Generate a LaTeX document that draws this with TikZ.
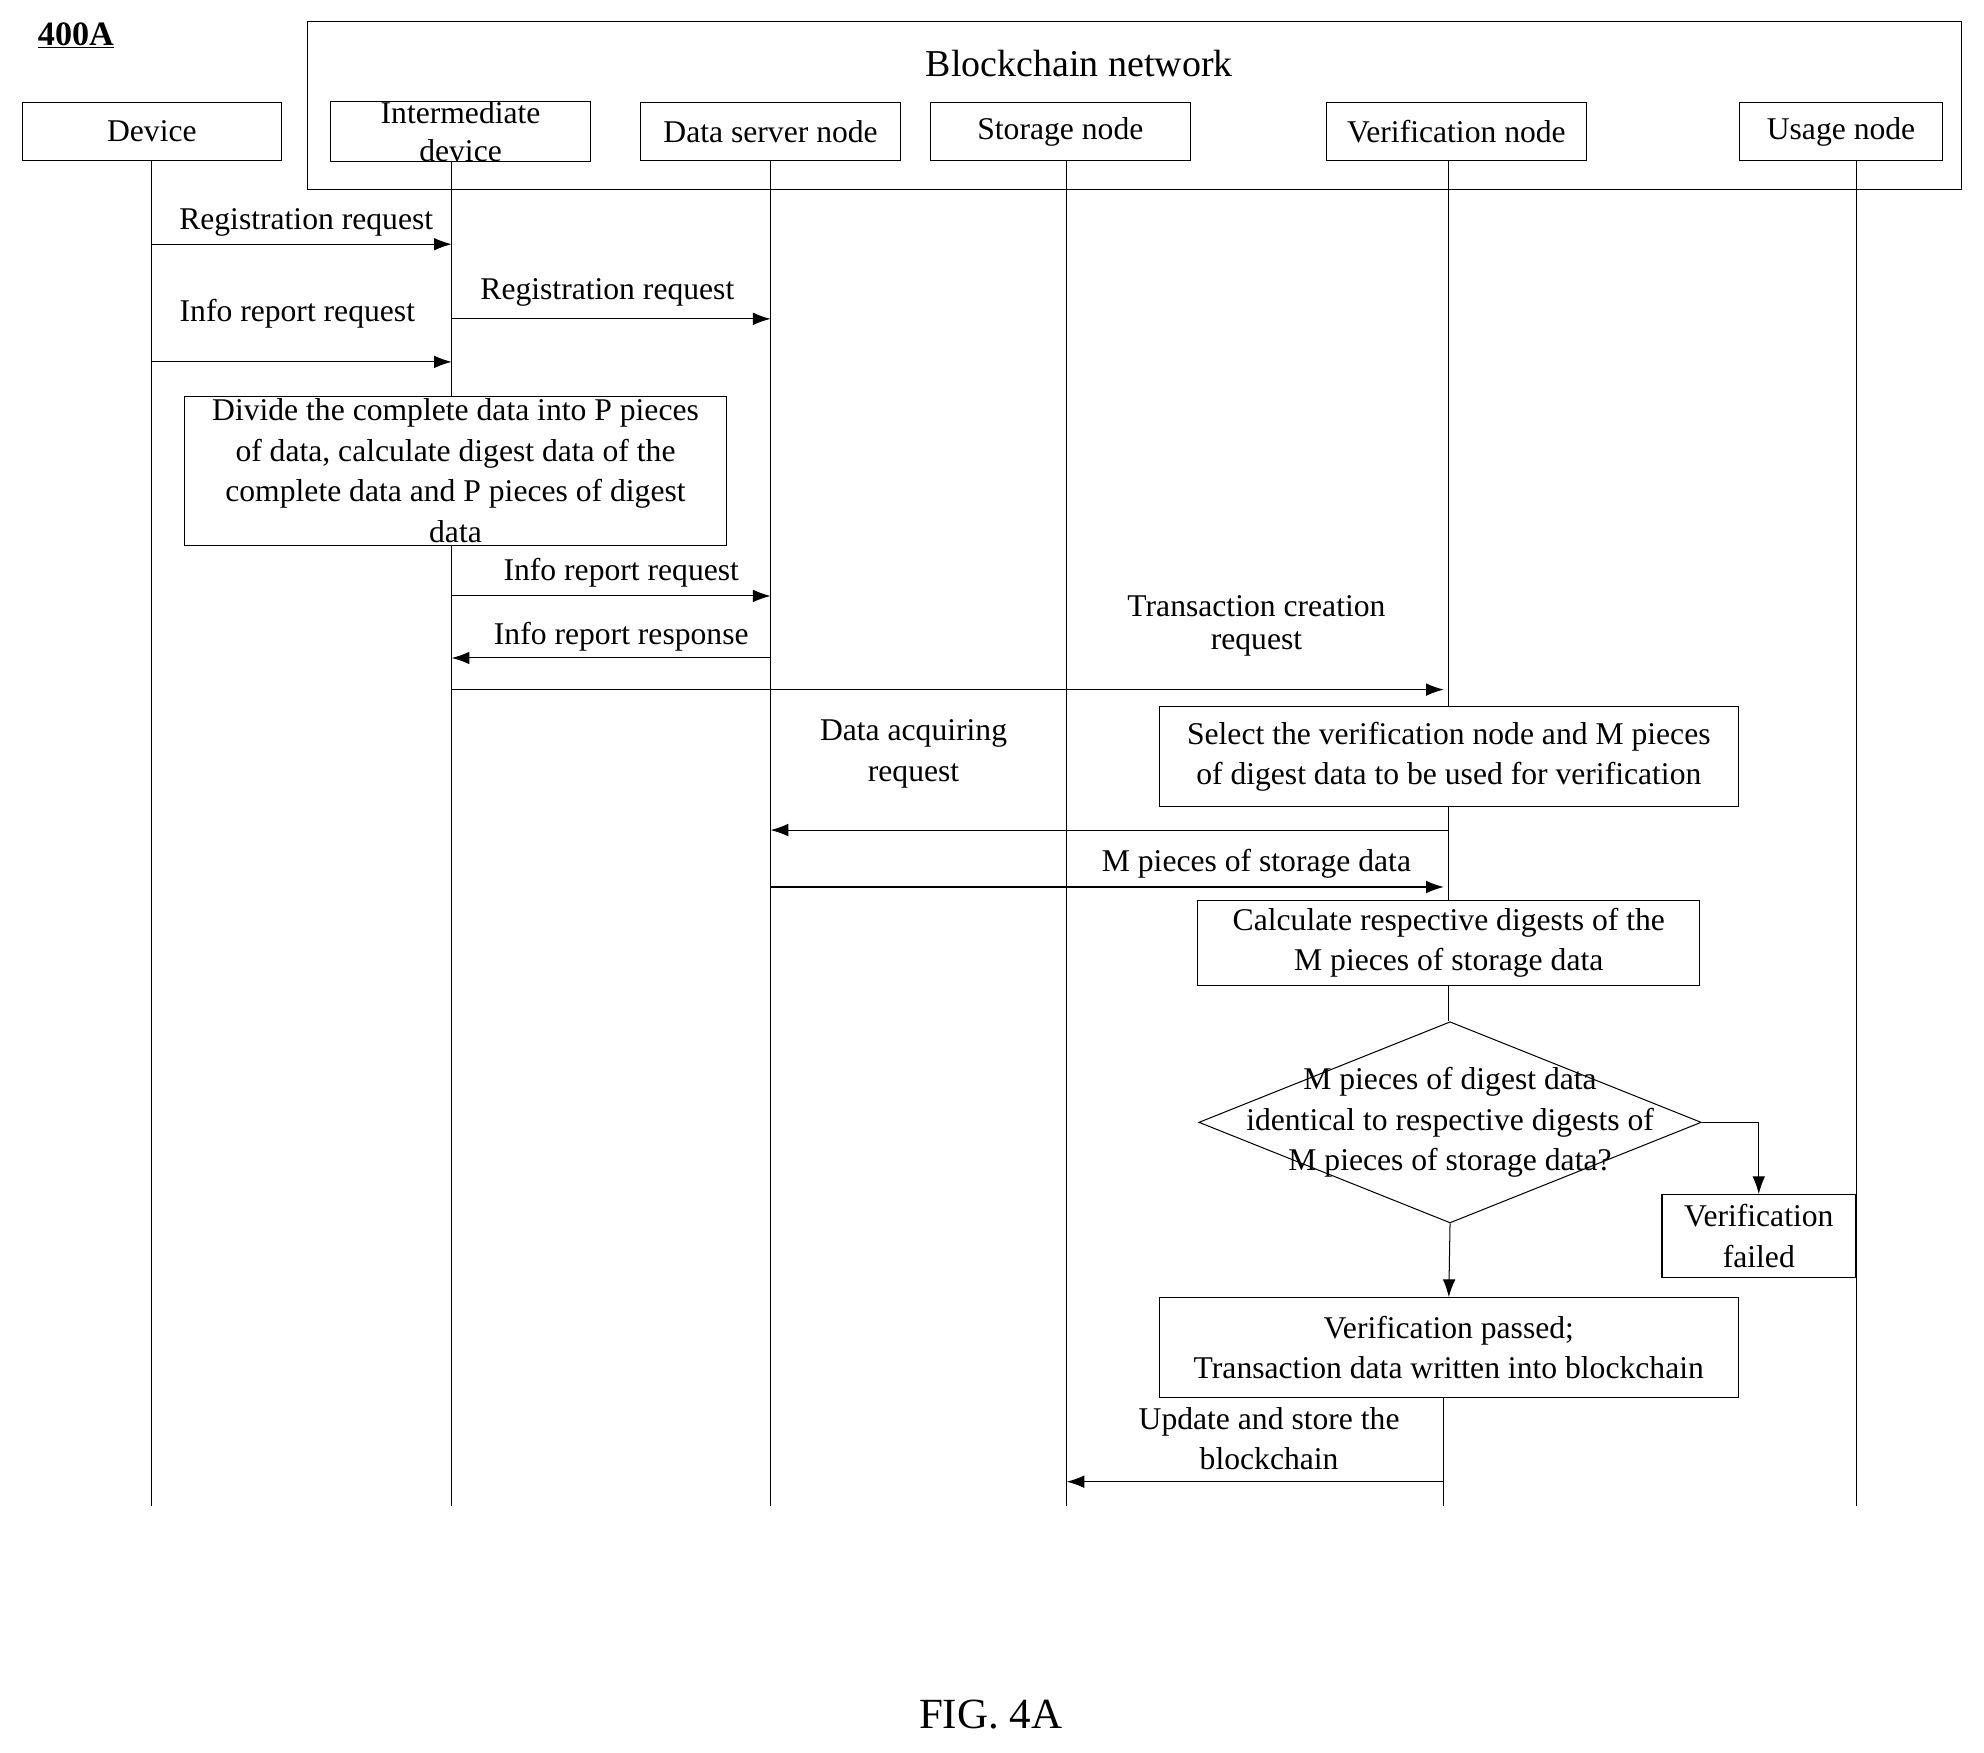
\documentclass[tikz,border=0pt]{standalone}
\usepackage{fontspec}
\setmainfont{Liberation Serif}
\usetikzlibrary{shapes.geometric,arrows.meta}
\tikzset{
  head/.style={draw, thick, minimum width=205pt, minimum height=46pt, inner sep=0pt},
  proc/.style={draw, thick, fill=white, align=center, inner sep=0pt},
  msg/.style={thick, -{Latex[length=14pt,width=10pt]}},
  lbl/.style={align=center, inner sep=0pt}
}
\begin{document}
\begin{tikzpicture}[x=1pt, y=-1pt, font=\fontsize{25}{32}\selectfont]
        \useasboundingbox (0,0) rectangle (1568,1385);
        % Title and network box
        \node[lbl, font=\fontsize{27}{30}\selectfont\bfseries] (title) at (60,28) {\underline{400A}};
        \draw[thick] (243,17) rectangle (1550,150);
        \node[lbl, font=\fontsize{30}{34}\selectfont] (net) at (853,50) {Blockchain network};

        % Heads
        \node[head] (dev) at (120,104) {Device};
        \node[head, align=center, font=\fontsize{25}{30}\selectfont] (mid) at (364,104) {Intermediate\\device};
        \node[head] (srv) at (609,104) {Data server node};
        \node[head] (sto) at (838,104) {Storage node};
        \node[head] (ver) at (1151,104) {Verification node};
        \node[head, minimum width=160pt] (use) at (1455,104) {Usage node};

        % Lifelines
        \draw[thick] (120,127) -- (120,1190);
        \draw[thick] (357,127) -- (357,1190);
        \draw[thick] (609,127) -- (609,1190);
        \draw[thick] (843,127) -- (843,1190);
        \draw[thick] (1145,127) -- (1145,807);
        \draw[thick] (1141,1104) -- (1141,1190);
        \draw[thick] (1467,127) -- (1467,1190);

        % Messages
        \draw[msg] (120,193) -- (357,193);
        \node[lbl] (m1) at (242,176) {Registration request};
        \draw[msg] (357,252) -- (609,252);
        \node[lbl] (m2) at (480,231) {Registration request};
        \draw[msg] (120,286) -- (357,286);
        \node[lbl] (m3) at (235,248) {Info report request};
        \node[proc, minimum width=428pt, minimum height=118pt] (divide) at (360,372)
          {Divide the complete data into P pieces\\of data, calculate digest data of the\\complete data and P pieces of digest\\data};
        \draw[msg] (357,471) -- (609,471);
        \node[lbl] (m4) at (491,453) {Info report request};
        \draw[msg] (609,520) -- (357,520);
        \node[lbl] (m5) at (491,503) {Info report response};
        \draw[msg] (357,545) -- (1141,545);
        \node[lbl] (m6) at (993,495) {Transaction creation\\[-6pt]request};
        \node[proc, minimum width=458pt, minimum height=79pt] (select) at (1145,598)
          {Select the verification node and M pieces\\of digest data to be used for verification};
        \draw[msg] (1145,656) -- (609,656);
        \node[lbl] (m7) at (722,596) {Data acquiring\\request};
        \draw[msg] (609,701) -- (1141,701);
        \node[lbl] (m8) at (993,683) {M pieces of storage data};
        \node[proc, minimum width=397pt, minimum height=67pt] (calc) at (1145,745)
          {Calculate respective digests of the\\M pieces of storage data};

        % Decision
        \node[draw, thick, diamond, aspect=2.5, minimum width=397pt, minimum height=159pt, inner sep=0pt, align=center] (check) at (1146,887) {};
        \node[lbl] (checktxt) at (1146,887) {M pieces of digest data\\identical to respective digests of\\M pieces of storage data?};
        \node[proc, minimum width=153pt, minimum height=66pt] (fail) at (1390,977) {Verification\\failed};
        \draw[msg] (check.east) -| (fail.north);
        \node[proc, minimum width=458pt, minimum height=79pt] (pass) at (1145,1065)
          {Verification passed;\\Transaction data written into blockchain};
        \draw[msg] (check.south) -- (pass.north);
        \draw[msg] (1141,1104) -- (1141,1171) -- (843,1171);
        \node[lbl] (m9) at (1003,1137) {Update and store the\\blockchain};

        \node[lbl, font=\fontsize{34}{38}\selectfont] (fig) at (783,1355) {FIG. 4A};
\end{tikzpicture}
\end{document}
